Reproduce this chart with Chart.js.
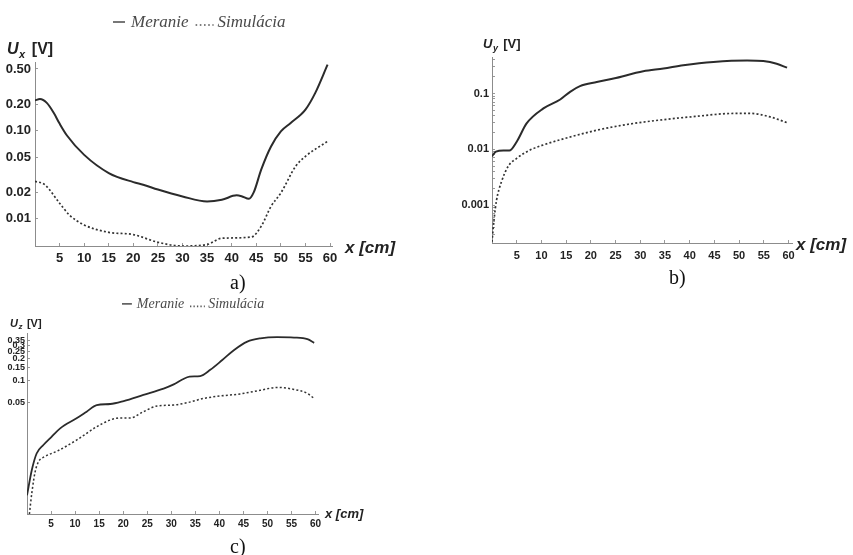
<!DOCTYPE html>
<html>
<head>
<meta charset="utf-8">
<script src="https://cdn.jsdelivr.net/npm/chart.js@4.4.1/dist/chart.umd.min.js"></script>
<style>
body { margin: 0; background: #fff; }
#page { position: relative; width: 853px; height: 555px; overflow: hidden; background: #fff; }
.box { position: absolute; }
.cap { position: absolute; font-family: "Liberation Serif", "Times New Roman", serif; font-size: 20px; color: #111; line-height: 1; }
</style>
</head>
<body>
<div id="page">
  <div class="box" style="left:0;top:0;width:420px;height:290px"><canvas id="chartA"></canvas></div>
  <div class="box" style="left:430px;top:0;width:423px;height:290px"><canvas id="chartB"></canvas></div>
  <div class="box" style="left:0;top:290px;width:420px;height:265px"><canvas id="chartC"></canvas></div>
  <div class="cap" style="left:230px;top:272px">a)</div>
  <div class="cap" style="left:669px;top:267px">b)</div>
  <div class="cap" style="left:230px;top:536px">c)</div>
</div>
<script>
var seriesNames = ["Meranie", "Simulácia"];
var xTicks = [5, 10, 15, 20, 25, 30, 35, 40, 45, 50, 55, 60];

// a) U_x
var xMerA = [0, 1, 2.4, 3.8, 5, 6.5, 10, 15, 20, 22, 25, 30, 35, 38, 41, 42, 43.5, 44.5, 46, 48, 50, 52, 55, 57, 59.5];
var merA  = [0.22, 0.228, 0.206, 0.159, 0.12, 0.088, 0.053, 0.033, 0.026, 0.0243, 0.0214, 0.0179, 0.0157, 0.0164, 0.0184, 0.018, 0.0168, 0.02, 0.036, 0.066, 0.098, 0.122, 0.173, 0.268, 0.56];
var xSimA = [0, 2, 5, 7, 10, 15, 20, 25, 30, 35, 38, 44, 46, 48, 50, 53, 55, 59.5];
var simA  = [0.0266, 0.0243, 0.015, 0.011, 0.0085, 0.007, 0.0066, 0.0054, 0.0049, 0.0051, 0.006, 0.0062, 0.0082, 0.0138, 0.0196, 0.0393, 0.051, 0.0756];
var yTicksA = [0.01, 0.02, 0.05, 0.10, 0.20, 0.50];

// b) U_y
var xMerB = [0, 0.8, 2.3, 3.5, 5, 7, 10.4, 13.8, 15.8, 17.8, 21.2, 24.6, 30.6, 34.7, 38.7, 44.8, 51.6, 54.9, 57.6, 59.7];
var merB  = [0.0075, 0.0091, 0.0095, 0.0095, 0.0137, 0.0291, 0.054, 0.078, 0.107, 0.135, 0.16, 0.185, 0.25, 0.28, 0.32, 0.367, 0.39, 0.38, 0.34, 0.29];
var xSimB = [0, 0.4, 0.9, 1.9, 3.3, 5, 7.7, 10.4, 15.8, 21.2, 27.9, 34.7, 41.4, 48.2, 52.3, 56.3, 59.7];
var simB  = [0.00022, 0.00054, 0.0012, 0.0026, 0.005, 0.0069, 0.0097, 0.012, 0.0166, 0.022, 0.0284, 0.034, 0.039, 0.0438, 0.044, 0.038, 0.03];
var yTicksB = [0.001, 0.01, 0.1];

// c) U_z
var xMerC = [0, 1, 2, 3.4, 5.1, 6.9, 10.3, 12.4, 14.5, 17.3, 20.1, 24.2, 28.4, 30.5, 32.3, 33.8, 36, 38.1, 40.6, 43, 45.8, 48.5, 52, 55.5, 58.3, 59.7];
var merC  = [0.0027, 0.006, 0.0101, 0.0132, 0.0171, 0.0223, 0.0306, 0.0377, 0.0465, 0.048, 0.0527, 0.064, 0.078, 0.089, 0.104, 0.114, 0.116, 0.141, 0.192, 0.262, 0.343, 0.38, 0.395, 0.39, 0.37, 0.33];
var xSimC = [0.5, 1, 1.7, 2.4, 3.6, 6.3, 10.3, 14.5, 17.3, 19.4, 21.5, 24.2, 27, 30.5, 33.3, 36.6, 39.4, 44.3, 48.5, 52, 55.5, 58.3, 59.7];
var simC  = [0.0015, 0.0029, 0.0057, 0.0078, 0.0091, 0.0109, 0.0154, 0.0235, 0.029, 0.031, 0.031, 0.0377, 0.045, 0.0465, 0.05, 0.057, 0.061, 0.066, 0.074, 0.081, 0.076, 0.067, 0.057];
var yTicksC = [0.05, 0.1, 0.15, 0.2, 0.25, 0.3, 0.35];

var SANS = '"Liberation Sans", Arial, sans-serif';
var SERIF = '"Liberation Serif", "Times New Roman", serif';

function pairs(xs, ys) {
  return xs.map(function (x, i) { return { x: x, y: ys[i] }; });
}

function inList(list, v) {
  return list.some(function (t) { return Math.abs(t - v) < t * 1e-6; });
}

// legend + axis names drawn on the canvas, mathematica style
var paperLabels = {
  id: 'paperLabels',
  afterDraw: function (chart, args, o) {
    var ctx = chart.ctx;
    ctx.save();
    ctx.textBaseline = 'alphabetic';
    ctx.textAlign = 'left';

    // legend
    var s = o.leg.size / 17;
    var x = o.leg.x;
    chart.data.datasets.forEach(function (ds, i) {
      var len = (i === 0 ? 12 : 18) * s;
      var ly = o.leg.base - (i === 0 ? 5 : 2) * s;
      ctx.strokeStyle = '#555';
      ctx.lineWidth = 1.6;
      ctx.setLineDash(i === 0 ? [] : [1.6 * s, 2.6 * s]);
      ctx.beginPath();
      ctx.moveTo(x, ly);
      ctx.lineTo(x + len, ly);
      ctx.stroke();
      ctx.setLineDash([]);
      x += len + (i === 0 ? 6 : 4) * s;
      ctx.fillStyle = '#4a4a4a';
      ctx.font = 'italic ' + o.leg.size + 'px ' + SERIF;
      ctx.fillText(ds.label, x, o.leg.base);
      x += ctx.measureText(ds.label).width + 7 * s;
    });

    // y axis name
    var f = o.yl.size;
    ctx.fillStyle = '#222';
    ctx.font = 'italic bold ' + f + 'px ' + SANS;
    ctx.fillText('U', o.yl.x, o.yl.base);
    var w = ctx.measureText('U').width;
    ctx.font = 'italic bold ' + Math.round(f * 0.7) + 'px ' + SANS;
    ctx.fillText(o.yl.sub, o.yl.x + w + 0.5, o.yl.base + f * 0.22);
    w += ctx.measureText(o.yl.sub).width + f * 0.45;
    ctx.font = 'bold ' + f + 'px ' + SANS;
    ctx.fillText('[V]', o.yl.x + w, o.yl.base);

    // x axis name
    ctx.font = 'italic bold ' + o.xl.size + 'px ' + SANS;
    ctx.fillText('x [cm]', o.xl.x, o.xl.base);
    ctx.restore();
  }
};

function makeChart(id, p) {
  return new Chart(document.getElementById(id), {
    type: 'line',
    data: {
      datasets: [{
        label: seriesNames[0],
        data: pairs(p.xMer, p.mer),
        borderColor: '#2b2b2b',
        borderWidth: p.lw,
        pointRadius: 0,
        cubicInterpolationMode: 'monotone',
        fill: false
      }, {
        label: seriesNames[1],
        data: pairs(p.xSim, p.sim),
        borderColor: '#333',
        borderWidth: p.lw * 0.85,
        borderDash: [2, 2.2],
        pointRadius: 0,
        cubicInterpolationMode: 'monotone',
        fill: false
      }]
    },
    options: {
      responsive: true,
      maintainAspectRatio: false,
      animation: false,
      layout: { padding: p.pad },
      plugins: {
        legend: { display: false },
        tooltip: { enabled: false },
        paperLabels: p.labels
      },
      scales: {
        x: {
          type: 'linear',
          min: 0,
          max: p.xMax,
          afterBuildTicks: function (s) { s.ticks = xTicks.map(function (v) { return { value: v }; }); },
          afterFit: function (s) { s.height = p.xH; },
          ticks: {
            autoSkip: false, maxRotation: 0, padding: p.xPad, color: '#222',
            font: { family: SANS, size: p.xFont, weight: 'bold' }
          },
          grid: { drawOnChartArea: false, drawTicks: true, tickLength: -3, color: '#999' },
          border: { display: true, color: '#8c8c8c', width: 1 }
        },
        y: {
          type: 'logarithmic',
          min: p.yMin,
          max: p.yMax,
          afterBuildTicks: function (s) { s.ticks = p.yAll.map(function (v) { return { value: v }; }); },
          afterFit: function (s) { s.width = p.yW; },
          ticks: {
            autoSkip: false, padding: p.yPad, color: '#222',
            font: { family: SANS, size: p.yFont, weight: 'bold' },
            callback: function (v) { return inList(p.yTicks, v) ? p.fmt(v) : ''; }
          },
          grid: { drawOnChartArea: false, drawTicks: true, tickLength: -3, color: '#999' },
          border: { display: true, color: '#8c8c8c', width: 1 }
        }
      }
    },
    plugins: [paperLabels]
  });
}

// minor ticks on the b) axis
var minorB = [];
[0.0001, 0.001, 0.01, 0.1].forEach(function (d) {
  for (var k = 2; k <= 9; k++) { if (k * d > 0.00021 && k * d < 0.45) minorB.push(k * d); }
});

makeChart('chartA', {
  xMer: xMerA, mer: merA, xSim: xSimA, sim: simA,
  yTicks: yTicksA, yAll: yTicksA, fmt: function (v) { return v.toFixed(2); },
  yMin: 0.0049, yMax: 0.6, xMax: 60.4, lw: 2,
  pad: { top: 62, left: 0, right: 88, bottom: 24 }, xH: 20, yW: 35,
  xFont: 13, yFont: 13, xPad: 8, yPad: 7,
  labels: {
    leg: { x: 113, base: 27, size: 17 },
    yl: { x: 7, base: 54, size: 16, sub: 'x' },
    xl: { x: 345, base: 253, size: 17 }
  }
});

makeChart('chartB', {
  xMer: xMerB, mer: merB, xSim: xSimB, sim: simB,
  yTicks: yTicksB, yAll: yTicksB.concat(minorB), fmt: function (v) { return String(v); },
  yMin: 0.00021, yMax: 0.45, xMax: 60.7, lw: 2,
  pad: { top: 57, left: 0, right: 61, bottom: 27 }, xH: 20, yW: 62,
  xFont: 11, yFont: 11, xPad: 9, yPad: 6,
  labels: {
    leg: { x: 577, base: 23, size: 16 },
    yl: { x: 53, base: 48, size: 13, sub: 'y' },
    xl: { x: 366, base: 250, size: 17 }
  }
});

makeChart('chartC', {
  xMer: xMerC, mer: merC, xSim: xSimC, sim: simC,
  yTicks: yTicksC, yAll: yTicksC, fmt: function (v) { return String(v); },
  yMin: 0.0015, yMax: 0.45, xMax: 60.5, lw: 1.8,
  pad: { top: 43, left: 0, right: 102, bottom: 25 }, xH: 16, yW: 27,
  xFont: 10, yFont: 9, xPad: 7, yPad: 5,
  labels: {
    leg: { x: 122, base: 18, size: 14 },
    yl: { x: 10, base: 37, size: 11, sub: 'z' },
    xl: { x: 325, base: 228, size: 13 }
  }
});
</script>
</body>
</html>
